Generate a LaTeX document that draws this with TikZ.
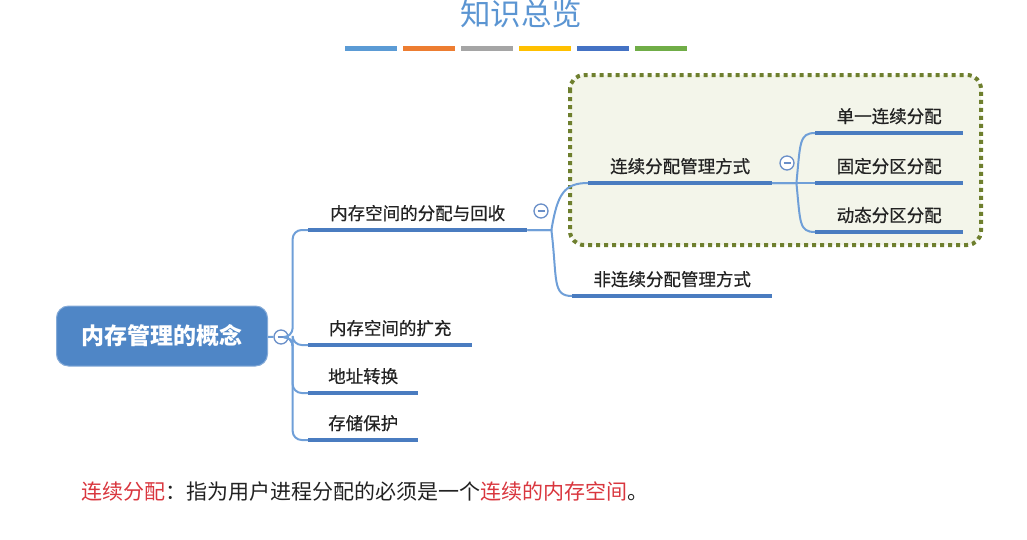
\documentclass[tikz,border=0pt]{standalone}
\usepackage{fontspec}
\setmainfont{Noto Sans CJK SC}
\newfontfamily\cjkmed{Noto Sans CJK SC}[FakeBold=0.6]
\usepackage{xcolor}
\usepackage{tikz}
\usetikzlibrary{positioning,calc}
\definecolor{titleblue}{HTML}{5B95D2}
\definecolor{rootfill}{HTML}{4F86C6}
\definecolor{ulcol}{HTML}{4A7CC0}
\definecolor{conncol}{HTML}{6F9FD8}
\definecolor{foldcol}{HTML}{6A8FC8}
\definecolor{boxfill}{HTML}{F3F5EA}
\definecolor{boxdraw}{HTML}{6E7F2E}
\definecolor{hired}{HTML}{D9363E}
\definecolor{txt}{HTML}{222222}
\definecolor{barA}{HTML}{5B9BD5}
\definecolor{barB}{HTML}{ED7D31}
\definecolor{barC}{HTML}{A5A5A5}
\definecolor{barD}{HTML}{FFC000}
\definecolor{barE}{HTML}{4472C4}
\definecolor{barF}{HTML}{70AD47}
\tikzset{
  topic/.style={anchor=south west,minimum width=#1pt,inner xsep=0pt,inner ysep=7pt,
    text height=14pt,text depth=3pt,text=txt,font=\cjkmed\fontsize{17.5}{20}\selectfont},
  uline/.style={ulcol,line width=4pt},
  conn/.style={conncol,line width=2pt},
  fold/.style={circle,draw=foldcol,fill=white,line width=1.3pt,minimum size=14pt,inner sep=0pt,
    path picture={\draw[foldcol,line width=1.3pt] ([xshift=-3.5pt]path picture bounding box.center)
      -- ([xshift=3.5pt]path picture bounding box.center);}},
  rootbox/.style={rounded corners=12pt,fill=rootfill,draw=rootfill!70!white,line width=1pt,
    minimum width=211pt,minimum height=60pt,text=white,font=\fontsize{23}{26}\selectfont\bfseries},
  groupbox/.style={draw=boxdraw,fill=boxfill,line width=4pt,dash pattern=on 4pt off 4pt,rounded corners=14pt}
}

\begin{document}
\begin{tikzpicture}[x=1pt,y=-1pt]
\useasboundingbox (0,0) rectangle (1027,539);
\node[text=titleblue,font=\fontsize{30.5}{34}\selectfont] (title) at (521,14) {知识总览};
\foreach \c [count=\i from 0] in {barA,barB,barC,barD,barE,barF}{
  \fill[\c] (345+58*\i,46) rectangle ++(52,5);
}
\draw[groupbox] (570,75) rectangle (981,245);

\node[rootbox] (root) at (162,336) {内存管理的概念};
\node[fold] (f0) at (281,337) {};
\node[topic=219] (alloc) at (308,230) {内存空间的分配与回收};
\node[topic=164] (expand) at (308,345) {内存空间的扩充};
\node[topic=110] (addr) at (308,393) {地址转换};
\node[topic=110] (prot) at (308,440) {存储保护};
\node[fold] (f1) at (541,211) {};
\node[topic=184] (cont) at (588,183) {连续分配管理方式};
\node[topic=200] (noncont) at (572,296) {非连续分配管理方式};
\node[fold] (f2) at (787,163) {};
\node[topic=148] (single) at (815,133) {单一连续分配};
\node[topic=148] (fixed) at (815,183) {固定分区分配};
\node[topic=148] (dyn) at (815,232) {动态分区分配};

\draw[conn] (root) -- (f0);
\foreach \n in {alloc,expand,addr,prot}{
  \draw[conn,rounded corners=9pt] (f0.east) -- ++(4,0) |- (\n.south west);
}
\draw[conn] (alloc.south east) -- ++(24,0) .. controls +(6,-36) and +(-24,0) .. (cont.south west);
\draw[conn] (alloc.south east) -- ++(24,0) .. controls +(6,50) and +(-20,0) .. (noncont.south west);
\draw[conn] (cont.south east) -- ++(24,0) .. controls +(4,-40) and +(-16,0) .. (single.south west);
\draw[conn] (cont.south east) -- (fixed.south west);
\draw[conn] (cont.south east) -- ++(24,0) .. controls +(4,40) and +(-16,0) .. (dyn.south west);
\foreach \n in {alloc,expand,addr,prot,cont,noncont,single,fixed,dyn}{
  \draw[uline] (\n.south west) -- (\n.south east);
}

\node[anchor=west,text=txt,font=\fontsize{21}{24}\selectfont] (note) at (78,492)
  {\textcolor{hired}{连续分配}：指为用户进程分配的必须是一个\textcolor{hired}{连续的内存空间}。};
\end{tikzpicture}
\end{document}
